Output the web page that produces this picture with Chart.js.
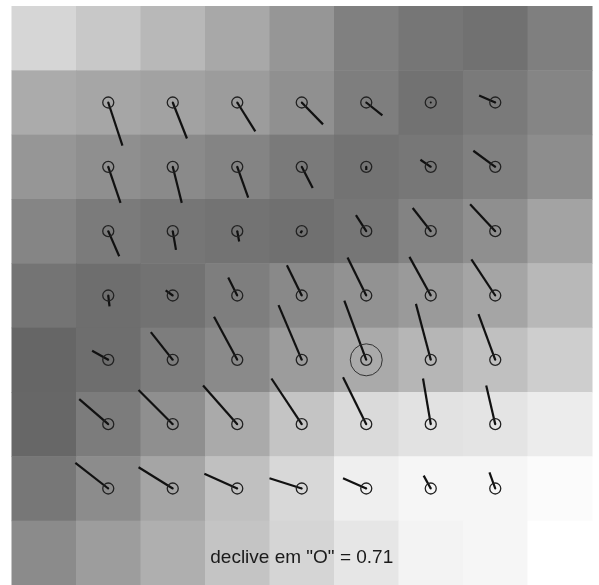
<!DOCTYPE html>
<html>
<head>
<meta charset="utf-8">
<script src="https://cdn.jsdelivr.net/npm/chart.js@4"></script>
<style>
  html, body { margin: 0; padding: 0; background: #fff; overflow: hidden; }
  #wrap { width: 599px; height: 585px; }
</style>
</head>
<body>
<div id="wrap"><canvas id="slopeChart"></canvas></div>
<script>
/* níveis de cinzento da grelha 9x9 (linha 0 = topo) */
const grayRows = [
  [214, 200, 184, 168, 150, 128, 118, 113, 127],
  [171, 166, 162, 156, 144, 126, 114, 122, 133],
  [150, 143, 138, 132, 122, 115, 119, 128, 141],
  [133, 123, 118, 115, 112, 118, 131, 143, 163],
  [116, 110, 114, 126, 137, 146, 154, 165, 184],
  [102, 110, 125, 138, 156, 170, 182, 192, 206],
  [103, 124, 143, 170, 196, 218, 226, 228, 236],
  [119, 140, 165, 192, 216, 239, 246, 246, 251],
  [139, 157, 175, 196, 213, 230, 243, 246, 255]
];

/* vetores em cada ponto interior 7x7 (unidades de célula, y para baixo) */
const vecU = [
  [ 0.22,  0.22,  0.28,  0.33,  0.25,  0.00, -0.25],
  [ 0.19,  0.14,  0.17,  0.17,  0.00, -0.16, -0.34],
  [ 0.17,  0.05,  0.03, -0.02, -0.16, -0.28, -0.39],
  [ 0.02, -0.11, -0.14, -0.23, -0.29, -0.33, -0.37],
  [-0.25, -0.34, -0.36, -0.36, -0.34, -0.23, -0.26],
  [-0.45, -0.53, -0.53, -0.47, -0.36, -0.12, -0.14],
  [-0.51, -0.53, -0.51, -0.50, -0.36, -0.11, -0.09]
];
const vecV = [
  [ 0.67,  0.56,  0.45,  0.34,  0.20,  0.00, -0.11],
  [ 0.56,  0.56,  0.48,  0.33,  0.05, -0.11, -0.25],
  [ 0.39,  0.29,  0.16,  0.03, -0.25, -0.36, -0.42],
  [ 0.17, -0.08, -0.28, -0.47, -0.59, -0.60, -0.56],
  [-0.14, -0.43, -0.67, -0.85, -0.92, -0.87, -0.71],
  [-0.39, -0.53, -0.60, -0.71, -0.73, -0.71, -0.60],
  [-0.40, -0.33, -0.23, -0.16, -0.16, -0.20, -0.25]
];

const pointO = { x: 5.5, y: 5.5 };
const slopeO = 0.71;
const labelText = 'declive em "O" = ' + slopeO;

/* pontos e segmentos */
const circlePts = [];
const segSets = [];
for (let r = 0; r < 7; r++) {
  for (let c = 0; c < 7; c++) {
    const px = c + 1.5, py = r + 1.5;
    circlePts.push({ x: px, y: py });
    segSets.push({
      type: 'scatter',
      showLine: true,
      data: [{ x: px, y: py }, { x: px + vecU[r][c], y: py + vecV[r][c] }],
      borderColor: '#111',
      borderWidth: 2.2,
      pointRadius: [1, 0],
      pointBackgroundColor: '#111',
      pointBorderWidth: 0
    });
  }
}

/* plugin: desenha as células e o texto */
const gridPlugin = {
  id: 'gridCells',
  beforeDatasetsDraw(chart) {
    const { ctx, scales: { x, y } } = chart;
    ctx.save();
    grayRows.forEach((row, r) => {
      row.forEach((g, c) => {
        const x0 = x.getPixelForValue(c), x1 = x.getPixelForValue(c + 1);
        const y0 = y.getPixelForValue(r), y1 = y.getPixelForValue(r + 1);
        ctx.fillStyle = `rgb(${g},${g},${g})`;
        ctx.fillRect(x0, y0, x1 - x0 + 0.5, y1 - y0 + 0.5);
      });
    });
    ctx.restore();
  },
  afterDraw(chart) {
    const { ctx, scales: { x, y } } = chart;
    ctx.save();
    ctx.font = '19px "Liberation Sans", Arial, sans-serif';
    ctx.fillStyle = '#1a1a1a';
    ctx.textAlign = 'center';
    ctx.textBaseline = 'middle';
    ctx.fillText(labelText, x.getPixelForValue(4.5), y.getPixelForValue(8.57));
    ctx.restore();
  }
};

const ctx = document.getElementById('slopeChart').getContext('2d');
new Chart(ctx, {
  type: 'scatter',
  data: {
    datasets: [
      {
        data: [pointO],
        pointRadius: 16,
        pointBorderColor: '#333',
        pointBorderWidth: 1,
        pointBackgroundColor: 'transparent'
      },
      {
        data: circlePts,
        pointRadius: 5.5,
        pointBorderColor: '#222',
        pointBorderWidth: 1.3,
        pointBackgroundColor: 'transparent'
      },
      ...segSets
    ]
  },
  options: {
    animation: false,
    responsive: true,
    maintainAspectRatio: false,
    devicePixelRatio: 1,
    layout: { autoPadding: false, padding: { left: 11.5, right: 7, top: 6, bottom: 0 } },
    scales: {
      x: { type: 'linear', min: 0, max: 9, display: false },
      y: { type: 'linear', min: 0, max: 9, reverse: true, display: false }
    },
    plugins: {
      legend: { display: false },
      tooltip: { enabled: false }
    }
  },
  plugins: [gridPlugin]
});
</script>
</body>
</html>
